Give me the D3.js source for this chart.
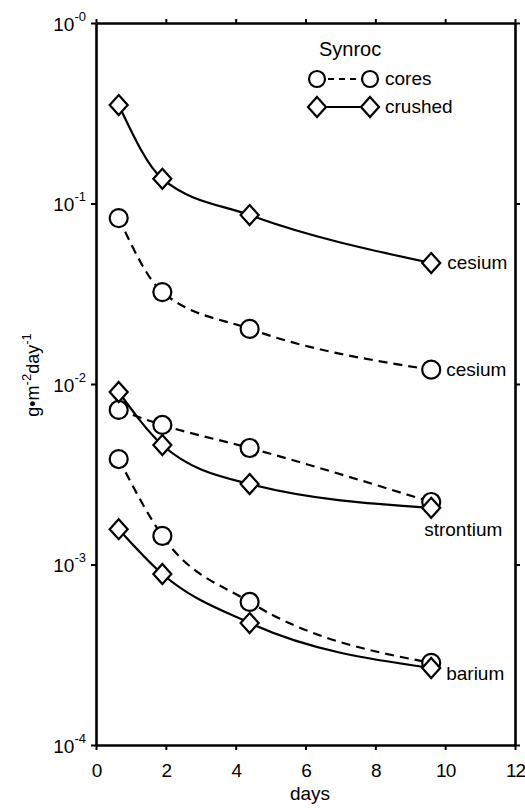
<!DOCTYPE html>
<html>
<head>
<meta charset="utf-8">
<script src="https://cdn.jsdelivr.net/npm/d3@7"></script>
<style>
  html, body { margin: 0; padding: 0; background: #fff; }
  svg text { font-family: "Liberation Sans", Arial, Helvetica, sans-serif; fill: #000; }
</style>
</head>
<body>
<svg id="chart" width="525" height="808"></svg>
<script>
// Leach rates of Synroc (cores vs crushed), g·m-2·day-1, sampled on these days
const days = [0.65, 1.9, 4.4, 9.6];
const coresCesium = [0.083, 0.0323, 0.0202, 0.0120];
const crushedCesium = [0.351, 0.137, 0.0863, 0.0468];
const coresStrontium = [0.00718, 0.00593, 0.00442, 0.00222];
const crushedStrontium = [0.00903, 0.00459, 0.00279, 0.00206];
const coresBarium = [0.00384, 0.00144, 0.00062, 0.000285];
const crushedBarium = [0.00157, 0.000886, 0.000474, 0.000267];

const xTicks = [0, 2, 4, 6, 8, 10, 12];
const yTicks = [1, 1e-1, 1e-2, 1e-3, 1e-4];
const yExponents = ["-0", "-1", "-2", "-3", "-4"];

const series = [
  { name: "cesium", kind: "crushed", values: crushedCesium, label: "cesium", lx: 16, ly: 6 },
  { name: "cesium", kind: "cores", values: coresCesium, label: "cesium", lx: 15, ly: 6 },
  { name: "strontium", kind: "cores", values: coresStrontium, label: null },
  { name: "strontium", kind: "crushed", values: crushedStrontium, label: "strontium", lx: -7, ly: 28 },
  { name: "barium", kind: "cores", values: coresBarium, label: null },
  { name: "barium", kind: "crushed", values: crushedBarium, label: "barium", lx: 15, ly: 12 }
];

const svg = d3.select("#chart");
const plotLeft = 96, plotRight = 515, plotTop = 23, plotBottom = 745;

const x = d3.scaleLinear().domain([0, 12]).range([plotLeft, plotRight]);
const y = d3.scaleLog().domain([1e-4, 1]).range([plotBottom, plotTop]);

const axisStroke = 2.6;

function styleAxis(g) {
  g.select(".domain").attr("stroke", "#000").attr("stroke-width", axisStroke);
  g.selectAll(".tick line").attr("stroke", "#000").attr("stroke-width", 2);
}

// bottom axis with labels
const gx = svg.append("g")
  .attr("transform", `translate(0,${plotBottom})`)
  .call(d3.axisBottom(x).tickValues(xTicks).tickSize(5).tickSizeOuter(0).tickFormat(d3.format("d")));
styleAxis(gx);
gx.selectAll(".tick text")
  .attr("font-size", 19).attr("y", 32).attr("dy", 0)
  .attr("letter-spacing", -1)
  .style("font-family", "'Liberation Sans', Arial, sans-serif");

// top axis, ticks only
const gxt = svg.append("g")
  .attr("transform", `translate(0,${plotTop})`)
  .call(d3.axisTop(x).tickValues(xTicks).tickSize(4).tickSizeOuter(0).tickFormat(""));
styleAxis(gxt);

// left axis with power-of-ten labels
const gy = svg.append("g")
  .attr("transform", `translate(${plotLeft},0)`)
  .call(d3.axisLeft(y).tickValues(yTicks).tickSize(5).tickSizeOuter(0).tickFormat(""));
styleAxis(gy);
gy.selectAll(".tick text").remove();
gy.selectAll(".tick").each(function (d, i) {
  const t = d3.select(this).append("text")
    .attr("x", -10).attr("y", 7)
    .attr("text-anchor", "end")
    .attr("font-size", 19);
  t.append("tspan").text("10");
  t.append("tspan").attr("font-size", 13).attr("dy", -10).text(yExponents[i]);
});

// right axis, ticks only
const gyr = svg.append("g")
  .attr("transform", `translate(${plotRight},0)`)
  .call(d3.axisRight(y).tickValues(yTicks).tickSize(5).tickSizeOuter(0).tickFormat(""));
styleAxis(gyr);

// axis titles
svg.append("text")
  .attr("x", 310).attr("y", 800)
  .attr("text-anchor", "middle").attr("font-size", 19)
  .text("days");

const yt = svg.append("text")
  .attr("transform", `translate(39,375) rotate(-90)`)
  .attr("text-anchor", "middle").attr("font-size", 18);
yt.append("tspan").text("g\u2022m");
yt.append("tspan").attr("font-size", 13).attr("dy", -8).text("-2");
yt.append("tspan").attr("dy", 8).text("day");
yt.append("tspan").attr("font-size", 13).attr("dy", -8).text("-1");

// curves
const line = d3.line()
  .x((d, i) => x(days[i]))
  .y(d => y(d))
  .curve(d3.curveMonotoneX);

const curves = svg.append("g").attr("fill", "none").attr("stroke", "#000").attr("stroke-width", 2.2);
series.forEach(s => {
  curves.append("path")
    .attr("d", line(s.values))
    .attr("stroke-dasharray", s.kind === "cores" ? "9,6" : null);
});

// markers
function diamondPath(cx, cy) {
  const w = 9, h = 10;
  return `M${cx},${cy - h}L${cx + w},${cy}L${cx},${cy + h}L${cx - w},${cy}Z`;
}

const marks = svg.append("g").attr("stroke", "#000").attr("stroke-width", 2.2).attr("fill", "#fff");
series.filter(s => s.kind === "cores").forEach(s => {
  s.values.forEach((v, i) => {
    marks.append("circle").attr("cx", x(days[i])).attr("cy", y(v)).attr("r", 9);
  });
});
series.filter(s => s.kind === "crushed").forEach(s => {
  s.values.forEach((v, i) => {
    marks.append("path").attr("d", diamondPath(x(days[i]), y(v)));
  });
});

// element names at the end of each curve
series.filter(s => s.label).forEach(s => {
  const n = s.values.length - 1;
  svg.append("text")
    .attr("x", x(days[n]) + s.lx)
    .attr("y", y(s.values[n]) + s.ly)
    .attr("font-size", 19)
    .text(s.label);
});

// legend
const lg = svg.append("g");
lg.append("text").attr("x", 319).attr("y", 56).attr("font-size", 20).text("Synroc");
const legendRows = [
  { kind: "cores", label: "cores", cy: 79 },
  { kind: "crushed", label: "crushed", cy: 107 }
];
legendRows.forEach(r => {
  lg.append("line")
    .attr("x1", 317).attr("x2", 370).attr("y1", r.cy).attr("y2", r.cy)
    .attr("stroke", "#000").attr("stroke-width", 2.2)
    .attr("stroke-dasharray", r.kind === "cores" ? "6,5" : null);
  [317, 370].forEach(cx => {
    if (r.kind === "cores") {
      lg.append("circle").attr("cx", cx).attr("cy", r.cy).attr("r", 8)
        .attr("fill", "#fff").attr("stroke", "#000").attr("stroke-width", 2.2);
    } else {
      lg.append("path").attr("d", diamondPath(cx, r.cy))
        .attr("fill", "#fff").attr("stroke", "#000").attr("stroke-width", 2.2);
    }
  });
  lg.append("text").attr("x", 385).attr("y", r.cy + 6).attr("font-size", 19).text(r.label);
});
</script>
</body>
</html>
